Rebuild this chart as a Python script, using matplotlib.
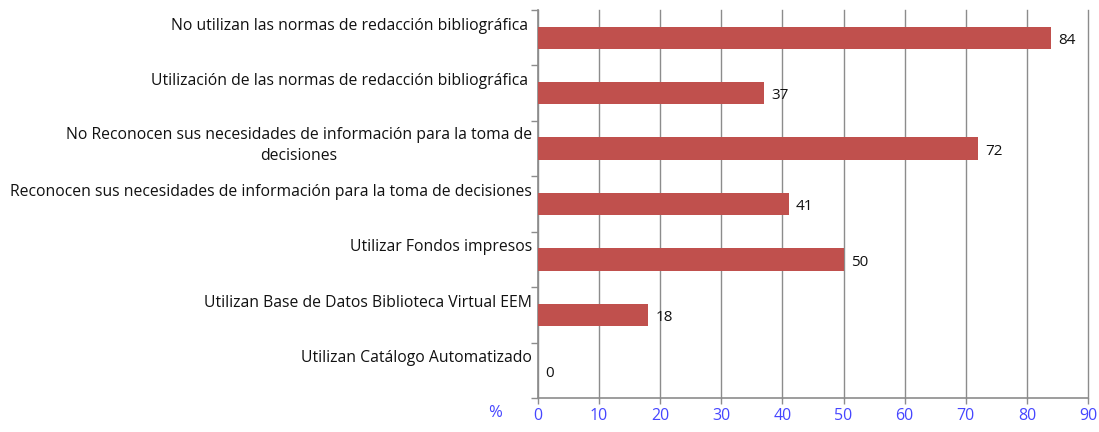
import matplotlib
matplotlib.use("Agg")
import matplotlib.pyplot as plt
import matplotlib.transforms as mtransforms

# ---- Data ----
categories = [
    "No utilizan las normas de redacción bibliográfica ",
    "Utilización de las normas de redacción bibliográfica ",
    "No Reconocen sus necesidades de información para la toma de\ndecisiones",
    "Reconocen sus necesidades de información para la toma de decisiones",
    "Utilizar Fondos impresos",
    "Utilizan Base de Datos Biblioteca Virtual EEM",
    "Utilizan Catálogo Automatizado",
]
values = [84, 37, 72, 41, 50, 18, 0]
xticks = [0, 10, 20, 30, 40, 50, 60, 70, 80, 90]

bar_color = "#c0504d"
grid_color = "#8c8c8c"
blue = "#4646ff"

plt.rcParams["font.family"] = ["Open Sans", "DejaVu Sans"]

fig = plt.figure(figsize=(10.99, 4.32), dpi=100)
ax = fig.add_axes([538 / 1099, 1 - 398 / 432, 550 / 1099, 388 / 432])

n = len(categories)
ypos = list(range(n))
ax.barh(ypos, values, height=0.4, color=bar_color, linewidth=0, zorder=3)
ax.set_ylim(n - 0.5, -0.5)
ax.set_xlim(0, 90)

# value labels
for y, v in zip(ypos, values):
    ax.text(v + 1.2, y + 0.05, str(v), ha="left", va="center",
            fontsize=11, color="#111111", zorder=4)

# gridlines
ax.set_xticks(xticks)
ax.xaxis.grid(True, color=grid_color, linewidth=1.0, zorder=0)
for gl in ax.get_xgridlines():
    gl.set_clip_on(False)
ax.set_axisbelow(True)
ax.tick_params(axis="x", colors=grid_color, length=4, width=1, pad=3,
               labelcolor=blue, labelsize=11.5)

# y axis: ticks at band boundaries, labels as text
ax.set_yticks([i - 0.5 for i in range(n + 1)])
ax.set_yticklabels([])
ax.tick_params(axis="y", colors=grid_color, length=5, width=1)
for y, lab in zip(ypos, categories):
    shift = 3 if "\n" in lab else 12
    off = mtransforms.ScaledTranslation(-6 / 100, shift / 100, fig.dpi_scale_trans)
    ax.text(0, y, lab, transform=ax.get_yaxis_transform() + off,
            ha="right", va="center", multialignment="center",
            fontsize=11.3, color="#111111", linespacing=1.45)

for s in ["top", "right"]:
    ax.spines[s].set_visible(False)
for s in ["left", "bottom"]:
    ax.spines[s].set_color(grid_color)
    ax.spines[s].set_linewidth(1.2)

fig.text(495 / 1099, 1 - 413 / 432, "%", color=blue, fontsize=12,
         ha="center", va="center")

fig.savefig("out.png", dpi=100)
